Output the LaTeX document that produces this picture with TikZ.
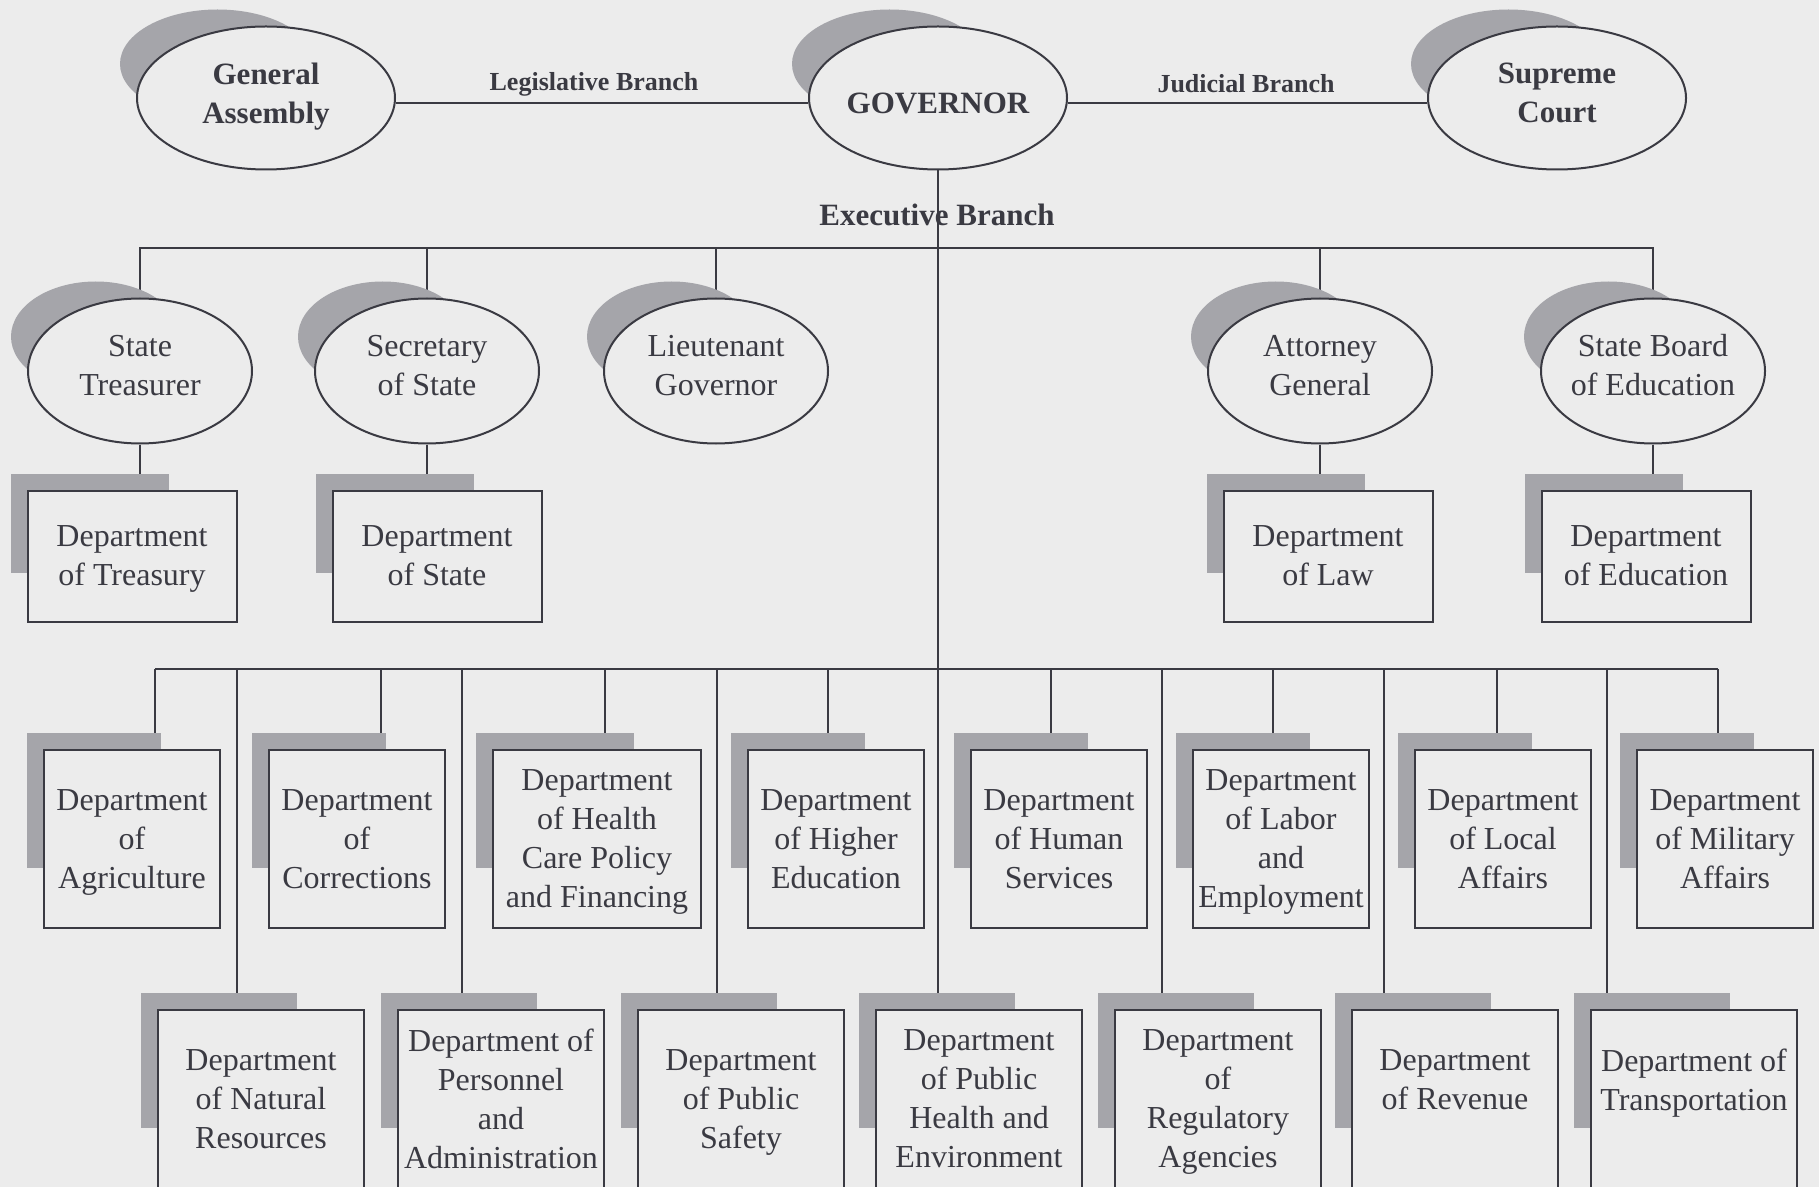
\documentclass[tikz,border=0pt]{standalone}
\usepackage{fontspec}
\setmainfont{Liberation Serif}
\usetikzlibrary{shapes.geometric,calc}
\definecolor{paper}{RGB}{236,236,236}
\definecolor{ink}{RGB}{58,58,66}
\definecolor{shadegray}{RGB}{165,165,170}
\pgfdeclarelayer{back}
\pgfdeclarelayer{shade}
\pgfsetlayers{back,shade,main}
\newcommand\ovalshade[1]{%
  \fill[shadefill] let \p1=(#1.west), \p2=(#1.north), \p3=(#1.center),
    \n1={0.75*(\x3-\x1)}, \n2={0.75*(\y2-\y3)} in
    ({\x1-8pt+\n1},{\y2+8pt-\n2}) ellipse [x radius=\n1, y radius=\n2];}
\newcommand\boxshade[1]{%
  \fill[shadefill] ($(#1.north west)+(-8pt,8pt)$) rectangle ($(#1.north west)!0.75!(#1.south east)+(-8pt,8pt)$);}

\begin{document}
\begin{tikzpicture}[x=0.5pt, y=-0.5pt,
  every node/.style={text=ink, align=center, font=\fontsize{16}{19.5}\selectfont},
  chief/.style={ellipse, draw=ink, fill=paper, line width=1pt, inner xsep=-3pt, inner ysep=0pt,
    minimum width=129pt, minimum height=71.5pt, text depth=5pt, font=\bfseries\fontsize{15.5}{19.5}\selectfont},
  officer/.style={ellipse, draw=ink, fill=paper, line width=1pt, inner xsep=-3pt, inner ysep=0pt,
    minimum width=112pt, minimum height=72.5pt, text depth=6pt},
  dept/.style={rectangle, draw=ink, fill=paper, line width=1pt, inner sep=0pt, text depth=0pt,
    minimum width=88pt, minimum height=89pt},
  upperdept/.style={dept, minimum width=104.5pt, minimum height=65.5pt},
  lowerdept/.style={dept, minimum width=103pt},
  branch/.style={font=\bfseries\fontsize{13}{16}\selectfont},
  shadefill/.style={fill=shadegray},
  wire/.style={draw=ink, line width=1pt}]
\useasboundingbox (0,0) rectangle (1819,1187);

\node[chief] (ga) at (266,98) {General\\Assembly};
\node[chief, text depth=0pt, text height=16pt] (gov) at (938,98) {GOVERNOR};
\node[chief] (sc) at (1557,98) {Supreme\\Court};
\node[branch] (leg) at (594,84) {Legislative Branch};
\node[branch] (jud) at (1246,84) {Judicial Branch};
\node[font=\bfseries\fontsize{15.5}{19}\selectfont] (exe) at (937,215) {Executive Branch};

\node[officer] (st) at (140,371) {State\\Treasurer};
\node[officer] (sos) at (427,371) {Secretary\\of State};
\node[officer] (lg) at (716,371) {Lieutenant\\Governor};
\node[officer] (ag) at (1320,371) {Attorney\\General};
\node[officer] (sbe) at (1653,371) {State Board\\of Education};

\node[upperdept] (dtreas) at (132,556) {Department\\of Treasury};
\node[upperdept] (dstate) at (437,556) {Department\\of State};
\node[upperdept] (dlaw) at (1328,556) {Department\\of Law};
\node[upperdept] (dedu) at (1646,556) {Department\\of Education};

\node[dept] (agri) at (132,839) {Department\\of\\Agriculture};
\node[dept] (corr) at (357,839) {Department\\of\\Corrections};
\node[dept, minimum width=104pt] (hcpf) at (597,839) {Department\\of Health\\Care Policy\\and Financing};
\node[dept] (hied) at (836,839) {Department\\of Higher\\Education};
\node[dept] (hums) at (1059,839) {Department\\of Human\\Services};
\node[dept] (labor) at (1281,839) {Department\\of Labor\\and\\Employment};
\node[dept] (local) at (1503,839) {Department\\of Local\\Affairs};
\node[dept] (mil) at (1725,839) {Department\\of Military\\Affairs};

\node[lowerdept] (nr) at (261,1099) {Department\\of Natural\\Resources};
\node[lowerdept] (pers) at (501,1099) {Department of\\Personnel\\and\\Administration};
\node[lowerdept] (psafe) at (741,1099) {Department\\of Public\\Safety};
\node[lowerdept] (ph) at (979,1099) {Department\\of Public\\Health and\\Environment};
\node[lowerdept] (reg) at (1218,1099) {Department\\of\\Regulatory\\Agencies};
\node[lowerdept] (rev) at (1455,1099) {Department\\of Revenue\\~};
\node[lowerdept] (trans) at (1694,1099) {Department of\\Transportation\\~};

\coordinate (upbus) at (938,248);
\coordinate (lowbus) at (938,669);

\begin{pgfonlayer}{back}
\fill[paper] (0,0) rectangle (1819,1187);
\draw[wire] ([yshift=-2.5pt]ga.east) -- ([yshift=-2.5pt]gov.west);
\draw[wire] ([yshift=-2.5pt]gov.east) -- ([yshift=-2.5pt]sc.west);
\draw[wire] (gov.south) -- (gov.south |- ph.north);
\draw[wire] (st.north) |- (upbus) -| (sbe.north);
\foreach \n in {sos,lg,ag}
  \draw[wire] (\n.north) -- (\n.north |- upbus);
\draw[wire] (st.south) -- (st.south |- dtreas.north);
\draw[wire] (sos.south) -- (sos.south |- dstate.north);
\draw[wire] (ag.south) -- (ag.south |- dlaw.north);
\draw[wire] (sbe.south) -- (sbe.south |- dedu.north);
\foreach \x/\n in {155/agri,381/corr,605/hcpf,828/hied,1051/hums,1273/labor,1497/local,1718/mil,
    237/nr,462/pers,717/psafe,1162/reg,1384/rev,1607/trans} {
  \coordinate (d\n) at (\x,669);
  \draw[wire] (d\n) -- (d\n |- \n.north);
}
\draw[wire] (dagri) -- (dmil);
\end{pgfonlayer}

\begin{pgfonlayer}{shade}
\foreach \o in {ga,gov,sc,st,sos,lg,ag,sbe}
  \ovalshade{\o};
\foreach \b in {dtreas,dstate,dlaw,dedu,agri,corr,hcpf,hied,hums,labor,local,mil,nr,pers,psafe,ph,reg,rev,trans}
  \boxshade{\b};
\end{pgfonlayer}
\end{tikzpicture}
\end{document}
